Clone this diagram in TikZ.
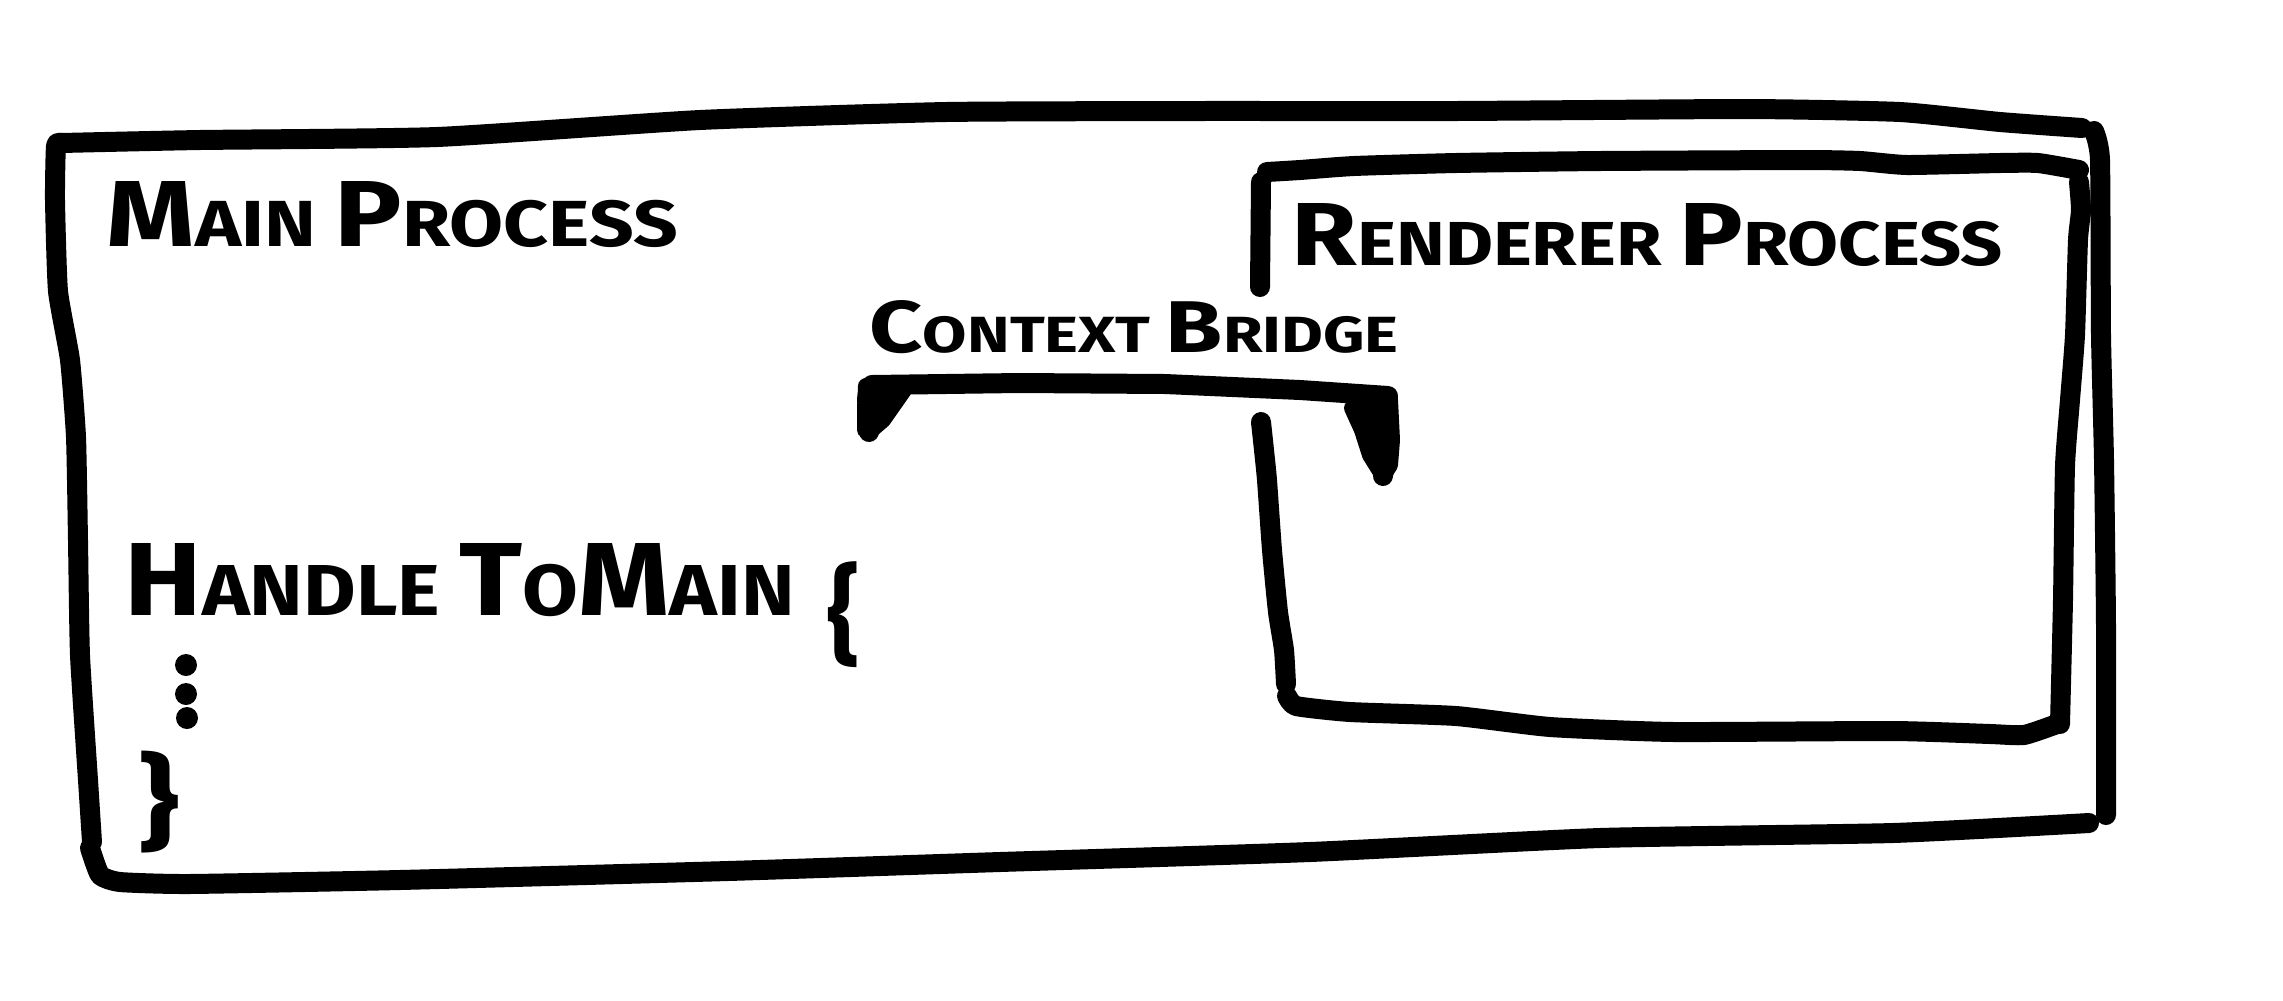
\documentclass[tikz,border=0pt]{standalone}
\usepackage{fontspec}
\setmainfont{Fira Sans}
\newcommand\hwtext[3]{\resizebox{#1}{#2}{\bfseries #3}}
\newcommand\firstl[1]{{\Large #1}}
\begin{document}
\begin{tikzpicture}[x=0.1mm,y=-0.1mm,
  sketch/.style={draw=black, line width=2mm, line cap=round, line join=round},
  head/.style={draw=black, fill=black, line width=1.6mm, line join=round},
  lbl/.style={inner sep=0pt, anchor=base west},
  glyph/.style={inner sep=0pt, anchor=north west},
  dot/.style={circle, fill=black, inner sep=0pt, minimum size=2.2mm}]
\useasboundingbox (0,0) rectangle (2283,1000);
\fill[white] (0,0) rectangle (2283,1000);

% outer box: Main Process
\draw[sketch] plot[smooth, tension=0.3] coordinates {(61,143) (200,140) (437,137) (700,120) (946,112) (1200,111) (1456,111) (1747,109) (1900,112) (2000,122) (2082,128)};
\draw[sketch] plot[smooth, tension=0.3] coordinates {(2094,131) (2100,160) (2101,335) (2104,460) (2106,626) (2106,815)};
\draw[sketch] plot[smooth, tension=0.3] coordinates {(2089,823) (1893,833) (1600,838) (1310,852) (1000,862) (728,871) (400,880) (189,884) (120,882) (100,875) (90,848)};
\draw[sketch] plot[smooth, tension=0.3] coordinates {(92,842) (88,780) (80,655) (78,540) (76,437) (70,360) (58,291) (55,200) (56,146) (61,143)};

% inner box: Renderer Process
\draw[sketch] plot[smooth, tension=0.3] coordinates {(1267,172) (1300,170) (1354,166) (1456,163) (1600,161) (1805,160) (1860,161) (1907,165) (2000,163) (2038,163) (2079,170)};
\draw[sketch] plot[smooth, tension=0.3] coordinates {(2079,182) (2081,210) (2078,240) (2075,335) (2070,400) (2065,466) (2063,600) (2060,724)};
\draw[sketch] plot[smooth, tension=0.3] coordinates {(2057,724) (2024,735) (1990,734) (1893,731) (1674,732) (1550,727) (1456,716) (1350,712) (1296,706) (1287,696)};
\draw[sketch] plot[smooth, tension=0.3] coordinates {(1286,684) (1284,650) (1278,612) (1272,550) (1267,480) (1264,450) (1261,422)};
\draw[sketch] (1261,182) -- (1260,287);

% labels
\node[lbl] (main) at (106,246) {\hwtext{57.1mm}{6.5mm}{\firstl{M}AIN \firstl{P}ROCESS}};
\node[lbl] (renderer) at (1291,265) {\hwtext{71.1mm}{6.2mm}{\firstl{R}ENDERER \firstl{P}ROCESS}};
\node[lbl] (context) at (869,352) {\hwtext{52.9mm}{5.2mm}{\firstl{C}ONTEXT \firstl{B}RIDGE}};
\node[lbl] (handle) at (124,615) {\hwtext{67mm}{7.2mm}{\firstl{H}ANDLE \firstl{T}O\firstl{M}AIN}};
\node[glyph] (open) at (827,561) {\resizebox*{3.2mm}{10.6mm}{\bfseries\{}};
\node[glyph] (close) at (138,750) {\resizebox*{4.1mm}{10.2mm}{\bfseries\}}};
\node[dot] (dot1) at (186,665) {};
\node[dot] (dot2) at (186,694) {};
\node[dot] (dot3) at (187,718) {};

% context bridge connector
\coordinate (bl) at (869,432);
\coordinate (br) at (1383,476);
\draw[sketch] (bl) -- (867,398) -- (872,385) -- (1019,383) -- (1165,384) -- (1300,390) -- (1388,396) -- (br);
\filldraw[head] (866,386) -- (904,390) -- (883,420) -- (bl) -- (865,430) -- (865,410) -- cycle;
\filldraw[head] (1352,408) -- (1390,400) -- (1392,440) -- (1390,465) -- (br) -- (1370,455) -- (1362,430) -- cycle;
\end{tikzpicture}
\end{document}
